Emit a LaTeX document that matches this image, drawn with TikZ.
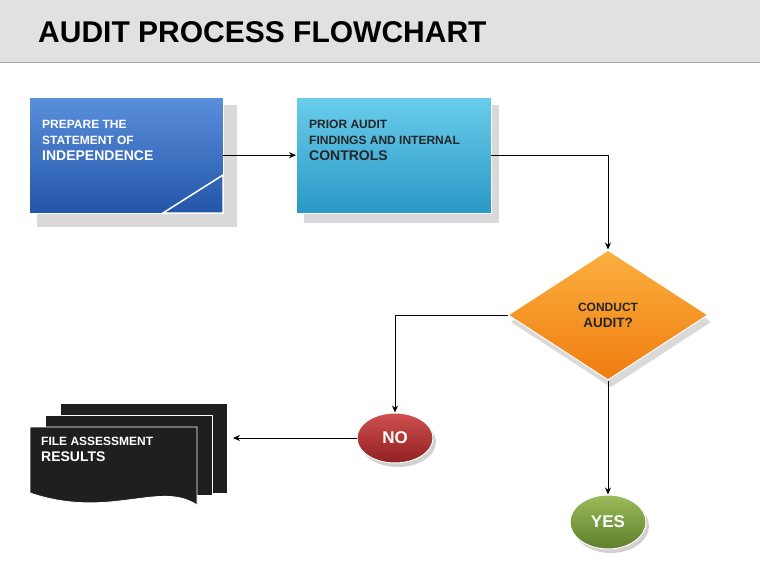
\documentclass[tikz,border=0pt]{standalone}
\usepackage{fontspec}
\setmainfont{Liberation Sans}
\usetikzlibrary{shapes.geometric,arrows.meta}
\definecolor{hdr}{HTML}{E1E1E1}
\definecolor{bl1}{HTML}{5A8FDC}
\definecolor{bl2}{HTML}{2356A8}
\definecolor{cy1}{HTML}{6ACDEB}
\definecolor{cy2}{HTML}{2A98C6}
\definecolor{or1}{HTML}{FBB040}
\definecolor{or2}{HTML}{F07C10}
\definecolor{rd1}{HTML}{D05050}
\definecolor{rd2}{HTML}{902020}
\definecolor{gn1}{HTML}{9CBC5A}
\definecolor{gn2}{HTML}{5E7E2C}
\tikzset{
 conn/.style={draw=black,line width=0.8pt},
 arr/.style={conn,-{Stealth[length=7pt,width=6pt]}},
 lbl/.style={font=\bfseries\fontsize{12}{16}\selectfont,align=left,anchor=north west,inner sep=0pt},
 doc/.style={fill=black!88,draw=white,line width=0.8pt},
}
\begin{document}
\begin{tikzpicture}[x=1pt,y=-1pt]
\useasboundingbox (0,0) rectangle (760,570);
\fill[white] (0,0) rectangle (760,570);
\fill[hdr] (0,0) rectangle (760,62);
\draw[black!35,line width=1pt] (0,62)--(760,62);
\node[font=\bfseries\fontsize{30}{34}\selectfont,anchor=west,inner sep=0pt] (title) at (38,32) {AUDIT PROCESS FLOWCHART};
% box 1
\fill[black!15] (37,105) rectangle (237,227);
\shade[top color=bl1,bottom color=bl2,draw=white,line width=1pt] (29,97) rectangle (223,213);
\node[minimum width=194,minimum height=116,anchor=north west,inner sep=0pt] (b1) at (29,97) {};
\draw[white,line width=1.5pt] (163,213)--(223,213)--(223,175)--cycle;
\node[lbl,text=white] (t1) at (42,120) {PREPARE THE\\STATEMENT OF\\{\fontsize{14}{16}\selectfont INDEPENDENCE}};
% box 2
\fill[black!15] (304,105) rectangle (499,223);
\shade[top color=cy1,bottom color=cy2,draw=white,line width=1pt] (296,97) rectangle (491,213);
\node[minimum width=195,minimum height=116,anchor=north west,inner sep=0pt] (b2) at (296,97) {};
\node[lbl,text=black!85] (t2) at (309,120) {PRIOR AUDIT\\FINDINGS AND INTERNAL\\{\fontsize{14}{16}\selectfont CONTROLS}};
% diamond
\fill[black!15] (611,257)--(711,322)--(611,387)--(511,322)--cycle;
\node[diamond,aspect=1.55,minimum width=200,minimum height=130,inner sep=0pt,draw=white,line width=1pt,shade,top color=or1,bottom color=or2] (d) at (608,315) {};
\node[font=\bfseries\fontsize{12}{16}\selectfont,align=center,text=black!85] (dt) at (608,315) {CONDUCT\\{\fontsize{13.5}{16}\selectfont AUDIT?}};
% NO / YES
\fill[black!18] (398,442) ellipse (38 and 25);
\node[ellipse,minimum width=76,minimum height=50,draw=white,line width=1pt,shade,top color=rd1,bottom color=rd2,font=\bfseries\fontsize{17}{19}\selectfont,text=white] (no) at (395,438) {NO};
\fill[black!18] (611,526) ellipse (38 and 27);
\node[ellipse,minimum width=76,minimum height=54,draw=white,line width=1pt,shade,top color=gn1,bottom color=gn2,font=\bfseries\fontsize{17}{19}\selectfont,text=white] (yes) at (608,522) {YES};
% documents
\draw[doc] (60,403) rectangle (227,493);
\draw[doc] (45,415) rectangle (212,495);
\draw[doc] (30,427) -- (197,427) -- (197,505) .. controls (160,480) and (110,520) .. (30,493) -- cycle;
\node[lbl,text=white] (t3) at (41,437) {FILE ASSESSMENT\\{\fontsize{14}{16}\selectfont RESULTS}};
\coordinate (docr) at (233,440);
% connectors
\draw[arr] (b1.east) -- (b2.west);
\draw[arr] (b2.east) -| (d.north);
\draw[arr] (d.west) -| (no.north);
\draw[arr] (no.west) -- (no.west -| docr);
\draw[arr] (d.south) -- (yes.north);
\end{tikzpicture}
\end{document}
